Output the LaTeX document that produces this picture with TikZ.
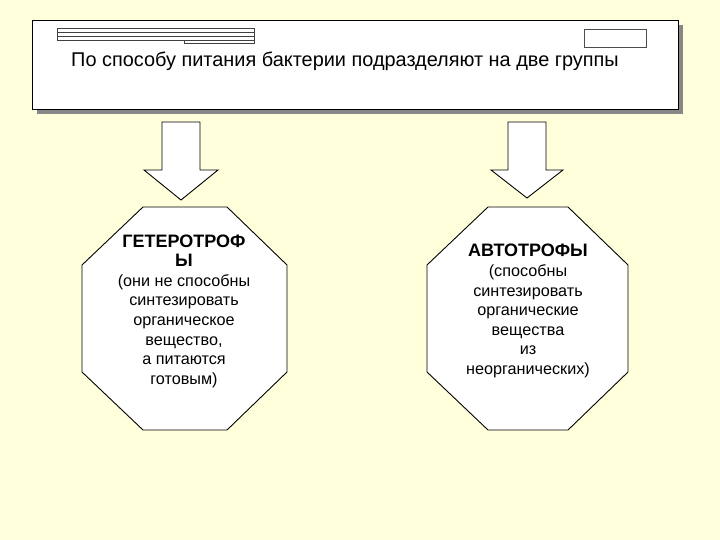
\documentclass[tikz,border=0pt]{standalone}
\usepackage{fontspec}
\setmainfont{Liberation Sans}
\definecolor{bgcol}{RGB}{255,255,219}
\definecolor{shadowcol}{RGB}{135,135,135}
\begin{document}
\begin{tikzpicture}[x=1pt,y=-1pt,
  outline/.style={draw=black,line width=0.9pt,fill=white},
  strip/.style={draw=black!75,line width=0.6pt,fill=white},
  octtext/.style={align=center,font=\fontsize{16.2}{19.6}\selectfont,inner sep=0pt}]
\fill[bgcol] (0,0) rectangle (720,540);
\useasboundingbox (0,0) rectangle (720,540);
% top box with shadow
\fill[shadowcol] (37,25) rectangle (683,114);
\node[outline,minimum width=646pt,minimum height=89pt,anchor=north west,inner sep=0pt] (top) at (32,20) {};
% decorative strips
\draw[strip] (57,28.7) rectangle (254,32.3);
\draw[strip] (57,32.5) rectangle (254,36.1);
\draw[strip] (57,36.3) rectangle (254,39.9);
\draw[strip] (184,40.1) rectangle (254,43.7);
\draw[draw=black!70,line width=0.9pt,fill=white] (584,29) rectangle (646,47);
\node[anchor=west,inner sep=0pt,font=\fontsize{19.9}{22}\selectfont] (title) at (71,61) {По способу питания бактерии подразделяют на две группы};
% block arrows
\draw[outline,line join=miter] (162,122) -- (200,122) -- (200,170) -- (218,170) -- (181,200) -- (144,170) -- (162,170) -- cycle;
\draw[outline,line join=miter] (508,122) -- (546,122) -- (546,170) -- (563,170) -- (527,198) -- (491,170) -- (508,170) -- cycle;
% octagons
\draw[outline] (143,207) -- (227,207) -- (287,265) -- (287,372) -- (227,430) -- (143,430) -- (82,372) -- (82,265) -- cycle;
\draw[outline] (488,207) -- (568,207) -- (628,265) -- (628,372) -- (568,430) -- (488,430) -- (427,372) -- (427,265) -- cycle;
\node[octtext] (hetero) at (184,311) {{\fontsize{18}{19.6}\selectfont\bfseries ГЕТЕРОТРОФ}\\{\fontsize{18}{19.6}\selectfont\bfseries Ы}\\(они не способны\\синтезировать\\органическое\\вещество,\\а питаются\\готовым)};
\node[octtext] (auto) at (528,311) {{\fontsize{18}{19.6}\selectfont\bfseries АВТОТРОФЫ}\\(способны\\синтезировать\\органические\\вещества\\из\\неорганических)};
\end{tikzpicture}
\end{document}
